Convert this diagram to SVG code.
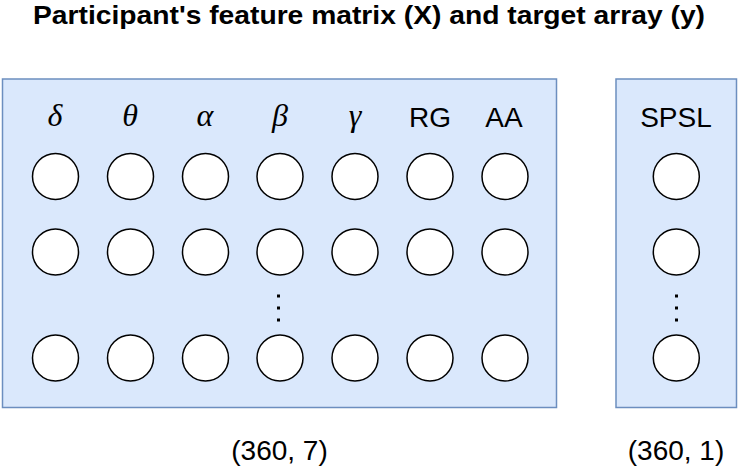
<svg xmlns="http://www.w3.org/2000/svg" width="739" height="469" viewBox="0 0 739 469">
<style>
.panel{fill:#dae8fc;stroke:#6c8ebf;stroke-width:1.5}
.c{fill:#ffffff;stroke:#000000;stroke-width:1.5}
.g{font-family:"Liberation Serif","DejaVu Serif",serif;font-style:italic;font-size:32px;text-anchor:middle;fill:#000}
.s{font-family:"Liberation Sans",Arial,sans-serif;font-size:28px;text-anchor:middle;fill:#000}
.t{font-family:"Liberation Sans",Arial,sans-serif;font-size:26px;font-weight:bold;fill:#000}
.d{fill:#000}
</style>
<defs>
<circle id="node" r="23" class="c"/>
</defs>
<text class="t" x="33" y="24" textLength="672" lengthAdjust="spacingAndGlyphs">Participant's feature matrix (X) and target array (y)</text>
<g id="X">
<rect class="panel" x="2.5" y="79" width="554" height="328.5"/>
<text class="g" x="55" y="126">δ</text>
<text class="g" x="130" y="126">θ</text>
<text class="g" x="205" y="126">α</text>
<text class="g" x="280" y="126">β</text>
<text class="g" x="355" y="126">γ</text>
<text class="s" x="430" y="127">RG</text>
<text class="s" x="504" y="127">AA</text>
<g id="row1">
<use href="#node" x="55.5" y="176.5"/><use href="#node" x="130.5" y="176.5"/><use href="#node" x="205.5" y="176.5"/><use href="#node" x="280" y="176.5"/><use href="#node" x="355" y="176.5"/><use href="#node" x="430" y="176.5"/><use href="#node" x="505" y="176.5"/>
</g>
<g id="row2">
<use href="#node" x="55.5" y="252"/><use href="#node" x="130.5" y="252"/><use href="#node" x="205.5" y="252"/><use href="#node" x="280" y="252"/><use href="#node" x="355" y="252"/><use href="#node" x="430" y="252"/><use href="#node" x="505" y="252"/>
</g>
<g id="dotsX">
<rect class="d" x="277" y="294.5" width="3" height="3"/><rect class="d" x="277" y="306.5" width="3" height="3"/><rect class="d" x="277" y="318.5" width="3" height="3"/>
</g>
<g id="row3">
<use href="#node" x="55.5" y="358"/><use href="#node" x="130.5" y="358"/><use href="#node" x="205.5" y="358"/><use href="#node" x="280" y="358"/><use href="#node" x="355" y="358"/><use href="#node" x="430" y="358"/><use href="#node" x="505" y="358"/>
</g>
<text class="s" x="279.5" y="460">(360, 7)</text>
</g>
<g id="y">
<rect class="panel" x="616" y="79" width="120.5" height="328.5"/>
<text class="s" x="676" y="127">SPSL</text>
<use href="#node" x="676.3" y="176.5"/>
<use href="#node" x="676.3" y="252"/>
<rect class="d" x="675" y="294.5" width="3" height="3"/><rect class="d" x="675" y="306.5" width="3" height="3"/><rect class="d" x="675" y="318.5" width="3" height="3"/>
<use href="#node" x="676.3" y="358"/>
<text class="s" x="676" y="460">(360, 1)</text>
</g>
</svg>
